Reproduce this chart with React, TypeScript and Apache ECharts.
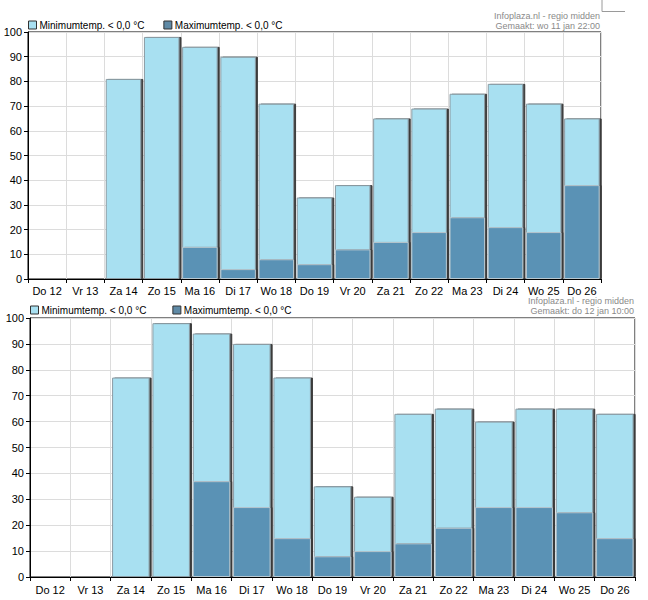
import React, { useEffect, useRef } from "react";
import * as echarts from "echarts";

const days = ["Do 12", "Vr 13", "Za 14", "Zo 15", "Ma 16", "Di 17", "Wo 18", "Do 19", "Vr 20", "Za 21", "Zo 22", "Ma 23", "Di 24", "Wo 25", "Do 26"];
const minTop = [null, null, 81, 98, 94, 90, 71, 33, 38, 65, 69, 75, 79, 71, 65];
const maxTop = [null, null, null, null, 13, 4, 8, 6, 12, 15, 19, 25, 21, 19, 38];
const minBottom = [null, null, 77, 98, 94, 90, 77, 35, 31, 63, 65, 60, 65, 65, 63];
const maxBottom = [null, null, null, null, 37, 27, 15, 8, 10, 13, 19, 27, 27, 25, 15];
const seriesNames = ["Minimumtemp. < 0,0 °C", "Maximumtemp. < 0,0 °C"];
const sourceText = "Infoplaza.nl - regio midden";
const madeTop = "Gemaakt: wo 11 jan 22:00";
const madeBottom = "Gemaakt: do 12 jan 10:00";

const FONT = "'Liberation Sans', Arial, sans-serif";
const LIGHT = "#a8e0f1";
const DARK = "#5a92b5";

export default function App() {
  const ref = useRef<HTMLDivElement>(null);
  useEffect(() => {
    if (!ref.current) return;
    const chart = echarts.init(ref.current, null, { renderer: "svg" });

    const xAxis = (gridIndex: number, margin: number) => ({
      type: "category",
      gridIndex,
      data: days,
      boundaryGap: true,
      axisLine: { lineStyle: { color: "#000", width: 1 } },
      axisTick: { show: true, length: 4, lineStyle: { color: "#000" } },
      axisLabel: { color: "#000", fontSize: 11, fontFamily: FONT, margin, interval: 0 },
      splitLine: { show: true, lineStyle: { color: "#dcdcdc" } },
    });
    const yAxis = (gridIndex: number) => ({
      type: "value",
      gridIndex,
      min: 0,
      max: 100,
      interval: 10,
      axisLine: { show: true, lineStyle: { color: "#000", width: 1 } },
      axisTick: { show: true, length: 4, lineStyle: { color: "#000" } },
      axisLabel: { color: "#000", fontSize: 11, fontFamily: FONT, margin: 6 },
      splitLine: { show: true, lineStyle: { color: "#dcdcdc" } },
    });
    const barStyle = (color: string) => ({
      color,
      borderColor: "#8b9ba3",
      borderWidth: 1,
      shadowColor: "#3a3a3a",
      shadowOffsetX: 2,
      shadowOffsetY: 0,
      shadowBlur: 0,
    });
    const bars = (idx: number, mins: (number | null)[], maxs: (number | null)[]) => [
      {
        name: seriesNames[0],
        type: "bar",
        xAxisIndex: idx,
        yAxisIndex: idx,
        data: mins.map((v) => (v === null ? "-" : v)),
        barWidth: "93%",
        barGap: "-100%",
        itemStyle: barStyle(LIGHT),
        z: 2,
      },
      {
        name: seriesNames[1],
        type: "bar",
        xAxisIndex: idx,
        yAxisIndex: idx,
        data: maxs.map((v) => (v === null ? "-" : v)),
        barWidth: "93%",
        barGap: "-100%",
        itemStyle: { ...barStyle(DARK), borderColor: "#b8c8d0" },
        z: 3,
      },
    ];
    const legend = (left: number, top: number, gap: number) => ({
      left,
      top,
      padding: 0,
      orient: "horizontal",
      itemWidth: 8,
      itemHeight: 8,
      itemGap: gap,
      icon: "rect",
      textStyle: { color: "#000", fontSize: 10, fontFamily: FONT, padding: [0, 0, 0, -2] },
      data: [
        { name: seriesNames[0], itemStyle: { color: LIGHT, borderColor: "#333", borderWidth: 1, shadowBlur: 0, shadowOffsetX: 0 } },
        { name: seriesNames[1], itemStyle: { color: "#5f8aa6", borderColor: "#333", borderWidth: 1, shadowBlur: 0, shadowOffsetX: 0 } },
      ],
    });
    const infoText = (x: number, y: number, line2: string) => ({
      type: "text",
      x,
      y,
      style: {
        text: sourceText + "\n" + line2,
        textAlign: "right",
        fill: "#8a8a8a",
        fontSize: 9,
        fontFamily: FONT,
        lineHeight: 10,
      },
    });

    chart.setOption({
      animation: false,
      grid: [
        { left: 28, top: 32, width: 573, height: 247, show: true, borderColor: "#000", borderWidth: 1, containLabel: false },
        { left: 30, top: 318, width: 605, height: 259, show: true, borderColor: "#000", borderWidth: 1, containLabel: false },
      ],
      legend: [legend(28, 20, 19), legend(30, 305, 26)],
      xAxis: [xAxis(0, 6), xAxis(1, 7)],
      yAxis: [yAxis(0), yAxis(1)],
      series: [...bars(0, minTop, maxTop), ...bars(1, minBottom, maxBottom)],
      graphic: [
        infoText(600, 11, madeTop),
        infoText(634, 296, madeBottom),
        {
          type: "polyline",
          shape: { points: [[602, 0], [602, 11.5], [625, 11.5]] },
          style: { stroke: "#9a9a9a", lineWidth: 1, fill: null },
        },
      ],
    });
    return () => chart.dispose();
  }, []);
  return <div ref={ref} style={{ position: "absolute", left: 0, top: 0, width: 648, height: 600 }} />;
}
